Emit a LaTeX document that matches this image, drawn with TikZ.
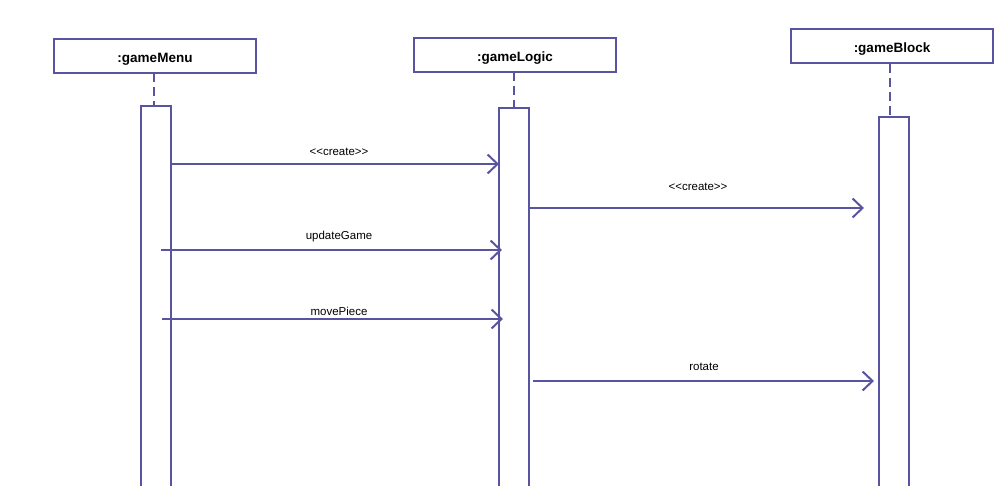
\documentclass[tikz,border=0pt]{standalone}
\usepackage{fontspec}
\setmainfont{Liberation Sans}
\usetikzlibrary{arrows.meta}
\definecolor{uml}{RGB}{88,84,160}
\begin{document}
\begin{tikzpicture}[x=1pt,y=-1pt,
  head/.style={draw=uml,line width=2pt,fill=white,minimum width=202pt,minimum height=34pt,inner sep=0pt,text height=16pt,text depth=3.5pt,font=\bfseries\fontsize{13.5}{16}\selectfont},
  bar/.style={draw=uml,line width=2pt,fill=white,minimum width=30pt,inner sep=0pt,anchor=north},
  life/.style={draw=uml,line width=2pt,dash pattern=on 9pt off 5pt},
  msg/.style={draw=uml,line width=2pt,-{Straight Barb[length=10pt,width=19pt,line width=2pt]}},
  lbl/.style={font=\fontsize{11.5}{13}\selectfont,text=black,inner sep=0pt}]
\useasboundingbox (0,0) rectangle (995,486);
\clip (0,0) rectangle (995,486);
\node[head] (hm) at (155,56) {:gameMenu};
\node[head] (hl) at (515,55) {:gameLogic};
\node[head] (hb) at (892,46.5) {:gameBlock};
\draw[life] (154,73) coordinate (tm) -- (154,105) coordinate (em);
\draw[life] (514,72) coordinate (tl) -- (514,107) coordinate (el);
\draw[life] (890,64) coordinate (tb) -- (890,116) coordinate (eb);
\node[bar,minimum height=400pt] (bm) at (156,105) {};
\node[bar,minimum height=400pt] (bl) at (514,107) {};
\node[bar,minimum height=400pt] (bb) at (894,116) {};
\coordinate (m1s) at (171,164); \coordinate (m1e) at (499,164);
\coordinate (m2s) at (529,208); \coordinate (m2e) at (864,208);
\coordinate (m3s) at (161,250); \coordinate (m3e) at (502,250);
\coordinate (m4s) at (162,319); \coordinate (m4e) at (503,319);
\coordinate (m5s) at (533,381); \coordinate (m5e) at (874,381);
\draw[msg] (m1s) -- (m1e);
\draw[msg] (m2s) -- (m2e);
\draw[msg] (m3s) -- (m3e);
\draw[msg] (m4s) -- (m4e);
\draw[msg] (m5s) -- (m5e);
\node[lbl] (l1) at (339,151.5) {{<}{<}create{>}{>}};
\node[lbl] (l2) at (698,186.5) {{<}{<}create{>}{>}};
\node[lbl] (l3) at (339,236.5) {updateGame};
\node[lbl] (l4) at (339,311.5) {movePiece};
\node[lbl] (l5) at (704,366.5) {rotate};
\end{tikzpicture}
\end{document}
